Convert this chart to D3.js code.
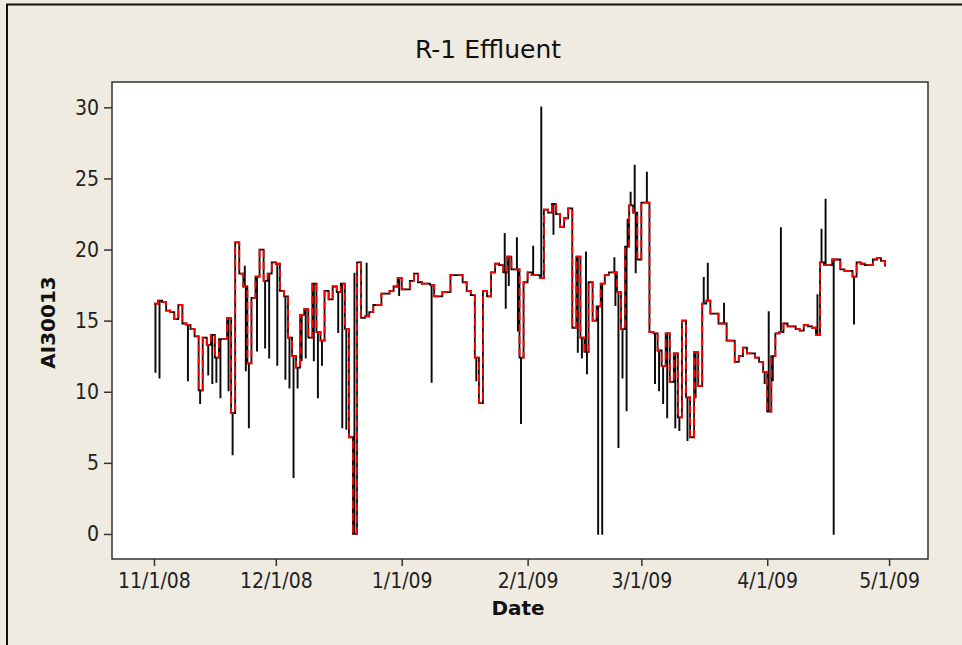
<!DOCTYPE html>
<html>
<head>
<meta charset="utf-8">
<script src="https://cdn.jsdelivr.net/npm/d3@7"></script>
<style>
  body { margin: 0; background: #efebe1; }
  svg { display: block; }
</style>
</head>
<body>
<script>
/* Daily AI30013 readings, one per day starting 11/1/08 */
var startDate = '11/1/08';
var dailyValues = [
    16.2, 16.4, 16.3, 15.7, 15.6, 15.1, 16.1, 14.8, 14.7, 14.4,
    13.9, 10.1, 13.8, 13.3, 14.0, 12.4, 13.7, 13.7, 15.2, 8.5,
    20.5, 18.3, 17.4, 12.0, 16.6, 18.1, 20.0, 17.8, 18.3, 19.1,
    19.0, 17.1, 16.7, 13.8, 12.5, 11.7, 15.4, 15.8, 13.8, 17.6,
    14.2, 13.6, 17.1, 16.5, 17.4, 17.0, 17.6, 14.4, 6.8, 0.0,
    19.1, 15.2, 15.3, 15.6, 16.1, 16.1, 16.9, 16.9, 17.1, 17.4,
    18.0, 17.2, 17.2, 17.8, 18.3, 17.7, 17.6, 17.6, 17.5, 16.7,
    16.7, 17.0, 17.0, 18.2, 18.2, 18.2, 17.7, 17.1, 16.8, 12.4,
    9.2, 17.1, 16.7, 18.4, 19.0, 18.9, 18.4, 19.5, 18.6, 18.6,
    12.4, 17.7, 18.4, 18.2, 18.2, 18.0, 22.8, 22.6, 23.2, 22.5,
    21.6, 22.2, 22.9, 14.5, 19.5, 13.8, 12.8, 17.7, 15.0, 16.0,
    17.6, 18.2, 18.4, 18.4, 17.0, 14.4, 20.2, 23.1, 22.6, 19.3,
    23.3, 23.3, 14.2, 14.1, 12.9, 11.8, 14.1, 10.7, 12.7, 8.2,
    15.0, 9.6, 6.8, 12.8, 10.4, 16.2, 16.4, 15.5, 15.5, 14.8,
    14.8, 13.6, 13.6, 12.1, 12.5, 13.1, 12.7, 12.7, 12.4, 12.1,
    11.4, 8.6, 12.5, 14.1, 14.2, 14.8, 14.6, 14.6, 14.4, 14.3,
    14.7, 14.6, 14.5, 14.0, 19.1, 18.9, 18.9, 19.3, 19.3, 18.6,
    18.5, 18.5, 18.1, 19.1, 19.0, 18.9, 18.9, 19.3, 19.4, 19.2,
    18.8
];

/* Short excursions of the raw (black) trace */
var spikeDates = [
    '11/1/08', '11/2/08', '11/9/08', '11/12/08', '11/14/08', '11/15/08',
    '11/16/08', '11/17/08', '11/19/08', '11/20/08', '11/23/08', '11/23/08',
    '11/24/08', '11/26/08', '11/28/08', '11/29/08', '12/1/08', '12/3/08',
    '12/4/08', '12/5/08', '12/6/08', '12/7/08', '12/8/08', '12/10/08',
    '12/11/08', '12/12/08', '12/16/08', '12/17/08', '12/18/08', '12/20/08',
    '12/23/08', '12/31/08', '1/8/09', '1/19/09', '1/26/09', '1/26/09',
    '1/27/09', '1/29/09', '1/29/09', '1/30/09', '2/2/09', '2/4/09',
    '2/7/09', '2/13/09', '2/14/09', '2/15/09', '2/15/09', '2/18/09',
    '2/19/09', '2/22/09', '2/22/09', '2/23/09', '2/24/09', '2/25/09',
    '2/25/09', '2/26/09', '2/27/09', '2/27/09', '3/2/09', '3/4/09',
    '3/5/09', '3/6/09', '3/7/09', '3/9/09', '3/10/09', '3/12/09',
    '3/14/09', '3/16/09', '3/17/09', '3/21/09', '3/31/09', '4/1/09',
    '4/2/09', '4/4/09', '4/13/09', '4/14/09', '4/15/09', '4/17/09',
    '4/22/09'
];
var spikeValues = [
    11.4, 11.0, 10.8, 9.2, 11.2, 10.6,
    10.7, 9.6, 10.1, 5.6, 18.8, 11.5,
    7.5, 12.9, 13.1, 12.4, 11.9, 10.9,
    10.3, 4.0, 10.3, 12.2, 12.4, 12.2,
    9.6, 11.9, 14.2, 7.5, 7.4, 18.3,
    19.0, 16.8, 10.7, 10.8, 21.1, 15.9,
    17.5, 20.8, 14.3, 7.8, 20.2, 30.0,
    21.1, 12.8, 12.4, 19.8, 11.3, 0.0,
    0.0, 19.4, 16.1, 6.1, 11.0, 8.7,
    22.1, 24.0, 25.9, 18.4, 25.4, 10.6,
    10.1, 9.2, 8.2, 7.5, 7.3, 6.6,
    9.6, 18.0, 19.0, 16.2, 10.6, 15.6,
    10.8, 21.5, 16.8, 21.4, 23.5, 0.0,
    14.8
];

var monthTicks = ['11/1/08', '12/1/08', '1/1/09', '2/1/09', '3/1/09', '4/1/09', '5/1/09'];
var yTicks = [0, 5, 10, 15, 20, 25, 30];

function draw() {
    var W = 962, H = 645;
    var plot = {left: 112, right: 928, top: 82, bottom: 559};
    var parse = d3.timeParse('%m/%d/%y');
    var t0 = parse(startDate);

    var svg = d3.select('body')
        .append('svg')
        .attr('width', W)
        .attr('height', H);

    svg.append('rect')
        .attr('width', W).attr('height', H)
        .attr('fill', '#efebe1');

    /* outer frame, left and top edges */
    svg.append('path')
        .attr('d', 'M7,' + H + 'V4.5H' + W)
        .attr('fill', 'none')
        .attr('stroke', '#111')
        .attr('stroke-width', 2);

    /* Scales: month ticks sit about ten days inside each plot edge */
    var ticks = monthTicks.map(parse);
    var x = d3.scaleTime()
        .domain([d3.timeHour.offset(ticks[0], -248), d3.timeHour.offset(ticks[ticks.length - 1], 230)])
        .range([plot.left, plot.right]);
    var y = d3.scaleLinear()
        .domain([-1.76, 31.78])
        .range([plot.bottom, plot.top]);

    svg.append('rect')
        .attr('x', plot.left).attr('y', plot.top)
        .attr('width', plot.right - plot.left)
        .attr('height', plot.bottom - plot.top)
        .attr('fill', '#fff');

    /* Build daily points and raw spikes */
    var daily = dailyValues.map(function (v, i) {
        return {t: d3.timeDay.offset(t0, i), v: v};
    });
    var raw = daily.slice();
    var seen = {};
    spikeDates.forEach(function (s, i) {
        var d = parse(s);
        var k = seen[s] || 0;
        seen[s] = k + 1;
        var idx = d3.timeDay.count(t0, d);
        var ts = d3.timeMinute.offset(d, 500 + k * 360);
        raw.push({t: ts, v: spikeValues[i]});
        raw.push({t: d3.timeMinute.offset(ts, 50), v: dailyValues[idx]});
    });
    raw.sort(function (a, b) { return a.t - b.t; });

    var line = d3.line()
        .curve(d3.curveStepAfter)
        .x(function (d) { return x(d.t); })
        .y(function (d) { return y(d.v); });

    var g = svg.append('g');
    g.append('path')
        .datum(raw)
        .attr('d', line)
        .attr('fill', 'none')
        .attr('stroke', '#0a0a0a')
        .attr('stroke-width', 1.8);
    g.append('path')
        .datum(daily)
        .attr('d', line)
        .attr('fill', 'none')
        .attr('stroke', '#ff0000')
        .attr('stroke-width', 1.8)
        .attr('stroke-dasharray', '8,4');

    /* plot border */
    svg.append('rect')
        .attr('x', plot.left).attr('y', plot.top)
        .attr('width', plot.right - plot.left)
        .attr('height', plot.bottom - plot.top)
        .attr('fill', 'none')
        .attr('stroke', '#333')
        .attr('stroke-width', 1.5);

    var tickFont = '"DejaVu Sans Condensed", "DejaVu Sans", sans-serif';

    var xAxis = svg.append('g')
        .attr('transform', 'translate(0,' + plot.bottom + ')')
        .call(d3.axisBottom(x)
              .tickValues(ticks)
              .tickFormat(d3.timeFormat('%-m/%-d/%y'))
              .tickSize(7)
              .tickPadding(7));
    var yAxis = svg.append('g')
        .attr('transform', 'translate(' + plot.left + ',0)')
        .call(d3.axisLeft(y)
              .tickValues(yTicks)
              .tickSize(8)
              .tickPadding(5));

    [xAxis, yAxis].forEach(function (a) {
        a.select('.domain').remove();
        a.selectAll('line').attr('stroke', '#333').attr('stroke-width', 1.5);
        a.selectAll('text')
            .attr('fill', '#222')
            .style('font-family', tickFont)
            .style('font-size', '21px');
    });

    svg.append('text')
        .attr('x', 488).attr('y', 58)
        .attr('text-anchor', 'middle')
        .style('font-family', '"DejaVu Sans", sans-serif')
        .style('font-size', '25px')
        .attr('fill', '#111')
        .text('R-1 Effluent');

    svg.append('text')
        .attr('x', 518).attr('y', 615)
        .attr('text-anchor', 'middle')
        .style('font-family', '"DejaVu Sans", sans-serif')
        .style('font-size', '20px')
        .style('font-weight', 'bold')
        .attr('fill', '#111')
        .text('Date');

    svg.append('text')
        .attr('transform', 'translate(55,' + ((plot.top + plot.bottom) / 2 + 2) + ') rotate(-90)')
        .attr('text-anchor', 'middle')
        .style('font-family', '"DejaVu Sans", sans-serif')
        .style('font-size', '20px')
        .style('font-weight', 'bold')
        .attr('fill', '#111')
        .text('AI30013');
}

draw();
</script>
</body>
</html>
